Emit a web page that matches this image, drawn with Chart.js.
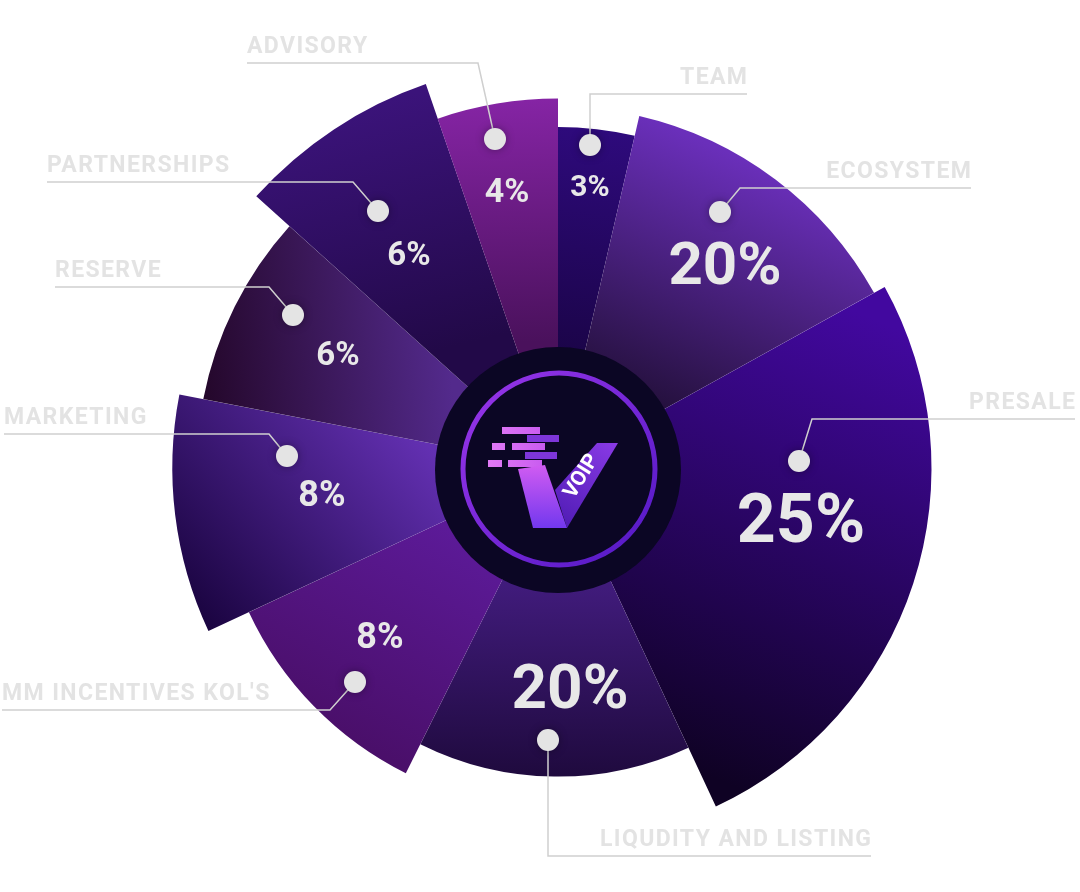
<!DOCTYPE html>
<html>
<head>
<meta charset="utf-8">
<title>VOIP token allocation</title>
<script src="https://cdn.jsdelivr.net/npm/chart.js@4.4.1/dist/chart.umd.min.js"></script>
<style>
  html, body { margin: 0; padding: 0; background: #fff; }
  #wrap { width: 1080px; height: 892px; }
</style>
</head>
<body>
<div id="wrap"><canvas id="alloc" width="1080" height="892"></canvas></div>
<script>
// token allocation, clockwise from 12 o'clock
const categories = ['TEAM', 'ECOSYSTEM', 'PRESALE', 'LIQUDITY AND LISTING', "MM INCENTIVES KOL'S",
                    'MARKETING', 'RESERVE', 'PARTNERSHIPS', 'ADVISORY'];
const shares = [3, 20, 25, 20, 8, 8, 6, 6, 4];
// wedge width (deg) and reach (0-100) as drawn in the artwork
const sweepDeg = [13, 48, 94, 51.5, 38.5, 36, 31, 29, 19];
const reach = [84, 89, 92, 76, 84, 95, 89, 100, 91];

// gradient per wedge: points given as [fraction of sweep, fraction of radius]
const fills = [
  { from: [0.5, 1], to: [0.4, 0.3], c0: '#2e0a7c', c1: '#1a0446' },
  { from: [0.4, 1], to: [0.85, 0.3], c0: '#6a2fba', c1: '#24103c' },
  { from: [0.05, 0.95], to: [1, 0.9], c0: '#42089f', c1: '#0f0224' },
  { from: [0.5, 0.35], to: [0.5, 1], c0: '#421c7e', c1: '#1f0a3e' },
  { from: [0.8, 0.35], to: [0.3, 1], c0: '#5c1a98', c1: '#4a0f6a' },
  { from: [1, 0.35], to: [0, 1], c0: '#6330b2', c1: '#1a0440' },
  { from: [1, 0.4], to: [0, 1], c0: '#532a8c', c1: '#24072a' },
  { from: [0.8, 1], to: [0.2, 0.4], c0: '#3b137a', c1: '#220948' },
  { from: [0.7, 1], to: [0.3, 0.35], c0: '#8524a4', c1: '#4a115c' }
];

// annotation layout, offsets from the chart centre
const pctPos = [[32, -283], [167, -205], [243, 50], [12, 218], [-178, 167],
                [-236, 25], [-220, -115], [-149, -215], [-51, -278]];
const pctSize = [30, 60, 68, 62, 36, 36, 33, 33, 34];
const labelLayout = [
  { dot: [32, -323], elbow: [32, -374], end: 189 },
  { dot: [162, -256], elbow: [182, -280], end: 413 },
  { dot: [241, -7], elbow: [254, -49], end: 517 },
  { dot: [-10, 272], elbow: [-10, 388], end: 313 },
  { dot: [-203, 214], elbow: [-228, 242], end: -556 },
  { dot: [-271, -12], elbow: [-289, -34], end: -554 },
  { dot: [-265, -153], elbow: [-289, -181], end: -503 },
  { dot: [-180, -257], elbow: [-205, -286], end: -511 },
  { dot: [-63, -329], elbow: [-80, -405], end: -311 }
];

function sliceFill(c) {
  const chart = c.chart;
  const scale = chart.scales.r;
  const i = c.dataIndex;
  if (!scale || !chart.chartArea || i === undefined) return '#2e0a6a';
  const st = fills[i];
  let start = 0;
  for (let k = 0; k < i; k++) start += sweepDeg[k];
  const R = scale.getDistanceFromCenterForValue(reach[i]);
  const pt = (p) => {
    const a = (start + p[0] * sweepDeg[i] - 90) * Math.PI / 180;
    return [scale.xCenter + Math.cos(a) * p[1] * R, scale.yCenter + Math.sin(a) * p[1] * R];
  };
  const a = pt(st.from), b = pt(st.to);
  const g = chart.ctx.createLinearGradient(a[0], a[1], b[0], b[1]);
  g.addColorStop(0, st.c0);
  g.addColorStop(1, st.c1);
  return g;
}

function drawLogo(ctx, cx, cy) {
  // hub disc + ring
  ctx.save();
  ctx.beginPath();
  ctx.arc(cx, cy + 2, 123, 0, Math.PI * 2);
  ctx.fillStyle = '#0b0624';
  ctx.fill();
  const ring = ctx.createLinearGradient(cx - 96, cy - 96, cx + 96, cy + 96);
  ring.addColorStop(0, '#9a36ea');
  ring.addColorStop(1, '#5218c4');
  ctx.beginPath();
  ctx.arc(cx + 1, cy + 1, 96, 0, Math.PI * 2);
  ctx.lineWidth = 5;
  ctx.strokeStyle = ring;
  ctx.stroke();

  // speed bars
  const pink = ctx.createLinearGradient(cx - 70, 0, cx, 0);
  pink.addColorStop(0, '#e27af6');
  pink.addColorStop(1, '#c254ee');
  const bars = [
    [-56, -41, 38, 7, pink], [-31, -33, 32, 7, '#7e36d9'],
    [-66, -25, 13, 7, pink], [-46, -25, 33, 7, pink],
    [-33, -16, 32, 7, '#7e36d9'],
    [-70, -8, 14, 7, pink], [-50, -8, 34, 7, pink]
  ];
  bars.forEach(b => { ctx.fillStyle = b[4]; ctx.fillRect(cx + b[0], cy + b[1], b[2], b[3]); });

  // right arm of the V
  const arm = ctx.createLinearGradient(cx + 60, cy - 25, cx + 5, cy + 60);
  arm.addColorStop(0, '#8a3ae6');
  arm.addColorStop(1, '#4f1cb4');
  ctx.beginPath();
  ctx.moveTo(cx + 39, cy - 25);
  ctx.lineTo(cx + 60, cy - 25);
  ctx.lineTo(cx + 9, cy + 60);
  ctx.lineTo(cx - 3, cy + 22);
  ctx.closePath();
  ctx.fillStyle = arm;
  ctx.fill();

  // left arm of the V
  const left = ctx.createLinearGradient(0, cy - 4, 0, cy + 60);
  left.addColorStop(0, '#d25cf2');
  left.addColorStop(1, '#7238ee');
  ctx.beginPath();
  ctx.moveTo(cx - 40, cy + 1);
  ctx.lineTo(cx - 13, cy - 3);
  ctx.lineTo(cx + 9, cy + 60);
  ctx.lineTo(cx - 25, cy + 60);
  ctx.closePath();
  ctx.fillStyle = left;
  ctx.fill();

  // VOIP
  ctx.translate(cx + 23, cy + 8);
  ctx.rotate(-58 * Math.PI / 180);
  ctx.fillStyle = '#ffffff';
  ctx.font = 'bold 21px Roboto';
  ctx.textAlign = 'center';
  ctx.textBaseline = 'middle';
  ctx.fillText('VOIP', 0, 1);
  ctx.restore();
}

const annotations = {
  id: 'annotations',
  afterDatasetsDraw(chart) {
    const ctx = chart.ctx;
    const s = chart.scales.r;
    const cx = s.xCenter, cy = s.yCenter;
    drawLogo(ctx, cx, cy);

    ctx.save();
    // leader lines + category names
    labelLayout.forEach((l, i) => {
      const ex = cx + l.elbow[0], ey = cy + l.elbow[1];
      const endX = cx + l.end;
      ctx.beginPath();
      ctx.moveTo(cx + l.dot[0], cy + l.dot[1]);
      ctx.lineTo(ex, ey);
      ctx.lineTo(endX, ey);
      ctx.strokeStyle = '#cfcfcf';
      ctx.lineWidth = 1.5;
      ctx.stroke();

      ctx.font = 'bold 23px Roboto';
      ctx.letterSpacing = '1.4px';
      ctx.fillStyle = '#e3e3e3';
      ctx.textBaseline = 'alphabetic';
      const leftSide = endX < ex;
      ctx.textAlign = leftSide ? 'left' : 'right';
      ctx.fillText(categories[i], endX + (leftSide ? 0 : 1.4), ey - 10);
    });
    ctx.letterSpacing = '0px';

    // dots
    labelLayout.forEach(l => {
      ctx.save();
      ctx.shadowColor = 'rgba(0,0,0,0.35)';
      ctx.shadowBlur = 8;
      ctx.beginPath();
      ctx.arc(cx + l.dot[0], cy + l.dot[1], 11, 0, Math.PI * 2);
      ctx.fillStyle = '#e4e4e4';
      ctx.fill();
      ctx.restore();
    });

    // percentages
    ctx.fillStyle = '#e8e8e8';
    ctx.textAlign = 'center';
    ctx.textBaseline = 'alphabetic';
    shares.forEach((v, i) => {
      const sz = pctSize[i];
      ctx.font = 'bold ' + sz + 'px Roboto';
      ctx.fillText(v + '%', cx + pctPos[i][0], cy + pctPos[i][1] + sz * 0.355);
    });
    ctx.restore();
  }
};

new Chart(document.getElementById('alloc'), {
  type: 'polarArea',
  data: {
    labels: categories,
    datasets: [{
      data: reach,
      angle: (c) => sweepDeg[c.dataIndex],
      backgroundColor: sliceFill,
      borderWidth: 0
    }]
  },
  options: {
    responsive: false,
    animation: false,
    layout: { padding: { left: 152, right: 116, top: 62, bottom: 18 } },
    scales: {
      r: { display: false, min: 0, max: 100, startAngle: 0 }
    },
    plugins: { legend: { display: false }, tooltip: { enabled: false } }
  },
  plugins: [annotations]
});
</script>
</body>
</html>
